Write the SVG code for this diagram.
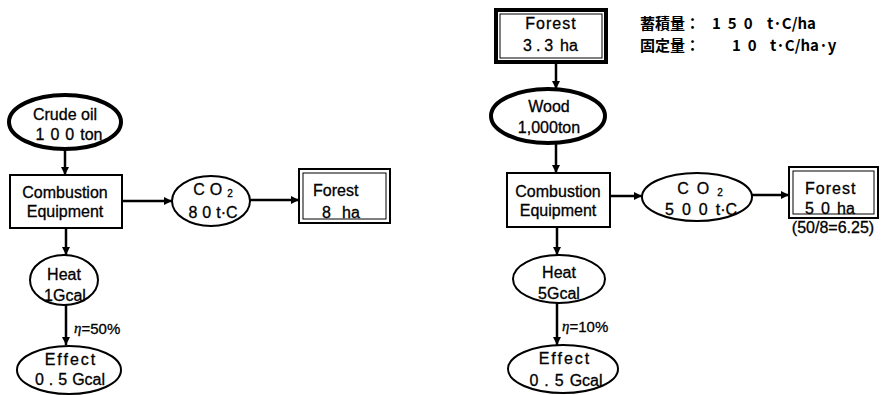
<svg xmlns="http://www.w3.org/2000/svg" width="881" height="395" viewBox="0 0 881 395">
<style>
.t{font-family:"Liberation Sans","Noto Sans CJK JP",sans-serif;font-size:16px;fill:#000;stroke:#000;stroke-width:0.3;text-anchor:middle;dominant-baseline:central}
.s{text-anchor:start}
.j{font-family:"Noto Sans CJK JP","Liberation Sans",sans-serif;font-size:15px;font-weight:bold;fill:#000;dominant-baseline:central}
.n{fill:#fff;stroke:#000;stroke-width:2}
.thick{fill:#fff;stroke:#000;stroke-width:4}
.c{stroke:#000;stroke-width:2.5;fill:none;marker-end:url(#ah)}
.eta{font-family:"Liberation Serif",serif;font-style:italic}
</style>
<defs>
<marker id="ah" markerUnits="userSpaceOnUse" markerWidth="10" markerHeight="10" refX="8" refY="4" orient="auto">
<path d="M0,0 L8,4 L0,8 Z" fill="#000"/>
</marker>
</defs>
<g id="connectors">
<line class="c" x1="65" y1="149" x2="65" y2="175"/>
<line class="c" x1="122" y1="201" x2="172" y2="201"/>
<line class="c" x1="250" y1="200" x2="299" y2="200"/>
<line class="c" x1="66" y1="228" x2="66" y2="255"/>
<line class="c" x1="66" y1="305" x2="66" y2="345"/>
<line class="c" x1="556" y1="62" x2="556" y2="89"/>
<line class="c" x1="556" y1="143" x2="556" y2="173"/>
<line class="c" x1="610" y1="196" x2="642" y2="196"/>
<line class="c" x1="752" y1="195" x2="789" y2="195"/>
<line class="c" x1="557" y1="227" x2="557" y2="255"/>
<line class="c" x1="557" y1="303" x2="557" y2="345"/>
<text class="t s" x="74" y="328" style="font-size:15px"><tspan class="eta">η</tspan>=50%</text>
<text class="t s" x="562" y="326" style="font-size:15px"><tspan class="eta">η</tspan>=10%</text>
</g>
<g id="crude-oil">
<ellipse class="thick" cx="65" cy="122" rx="56" ry="27"/>
<text class="t" x="65" y="114">Crude oil</text>
<text class="t" x="69" y="134"><tspan letter-spacing="6">100</tspan>ton</text>
</g>
<g id="combustion-left">
<rect class="n" x="10" y="175" width="112" height="53"/>
<text class="t" x="65" y="192">Combustion</text>
<text class="t" x="65" y="211">Equipment</text>
</g>
<g id="co2-left">
<ellipse class="n" cx="211" cy="201" rx="39" ry="25"/>
<text class="t" x="213" y="189"><tspan letter-spacing="5">CO</tspan><tspan font-size="10" dy="4">2</tspan></text>
<text class="t" x="213" y="212"><tspan letter-spacing="5">80</tspan>t·C</text>
</g>
<g id="forest-left">
<rect class="n" x="299" y="169" width="91" height="54" stroke-width="2.5"/>
<rect x="303" y="173" width="83" height="46" fill="none" stroke="#000" stroke-width="1"/>
<text class="t s" x="313" y="190">Forest</text>
<text class="t s" x="322" y="212">8<tspan x="342">ha</tspan></text>
</g>
<g id="heat-left">
<ellipse class="n" cx="64" cy="280" rx="34" ry="25"/>
<text class="t" x="64" y="274">Heat</text>
<text class="t" x="65" y="295">1Gcal</text>
</g>
<g id="effect-left">
<ellipse class="n" cx="69" cy="370" rx="52" ry="24"/>
<text class="t" x="71" y="359" letter-spacing="2">Effect</text>
<text class="t" x="70" y="379"><tspan letter-spacing="5">0.5</tspan>Gcal</text>
</g>
<g id="forest-top">
<rect class="thick" x="496" y="10" width="110" height="52"/>
<rect x="500" y="14" width="102" height="44" fill="none" stroke="#000" stroke-width="1"/>
<text class="t" x="551" y="23" letter-spacing="1">Forest</text>
<text class="t s" x="523" y="45"><tspan letter-spacing="4">3.3</tspan><tspan x="560">ha</tspan></text>
</g>
<g id="note">
<text class="j" x="640" y="22">蓄積量：<tspan x="712" letter-spacing="7">150</tspan><tspan x="767">t·C/ha</tspan></text>
<text class="j" x="640" y="44">固定量：<tspan x="732" letter-spacing="7">10</tspan><tspan x="770">t·C/ha·y</tspan></text>
</g>
<g id="wood">
<ellipse class="thick" cx="548" cy="116" rx="57" ry="27"/>
<text class="t" x="549" y="106">Wood</text>
<text class="t" x="549" y="127">1,000ton</text>
</g>
<g id="combustion-right">
<rect class="n" x="507" y="173" width="103" height="54"/>
<text class="t" x="558" y="191">Combustion</text>
<text class="t" x="558" y="210">Equipment</text>
</g>
<g id="co2-right">
<ellipse class="n" cx="697" cy="197" rx="55" ry="24"/>
<text class="t" x="700" y="188"><tspan letter-spacing="8">CO</tspan><tspan font-size="10" dy="4">2</tspan></text>
<text class="t" x="701" y="209"><tspan letter-spacing="8">500</tspan>t·C</text>
</g>
<g id="forest-right">
<rect class="n" x="789" y="167" width="89" height="51" stroke-width="2.5"/>
<rect x="793" y="171" width="81" height="43" fill="none" stroke="#000" stroke-width="1"/>
<text class="t s" x="805" y="188" letter-spacing="1">Forest</text>
<text class="t s" x="805" y="208"><tspan letter-spacing="7">50</tspan><tspan x="837">ha</tspan></text>
<text class="t" x="833" y="227">(50/8=6.25)</text>
</g>
<g id="heat-right">
<ellipse class="n" cx="559" cy="279" rx="46" ry="24"/>
<text class="t" x="559" y="272">Heat</text>
<text class="t" x="559" y="293">5Gcal</text>
</g>
<g id="effect-right">
<ellipse class="n" cx="563" cy="369" rx="55" ry="24"/>
<text class="t" x="565" y="358" letter-spacing="2">Effect</text>
<text class="t" x="566" y="380"><tspan letter-spacing="6">0.5</tspan>Gcal</text>
</g>
</svg>
